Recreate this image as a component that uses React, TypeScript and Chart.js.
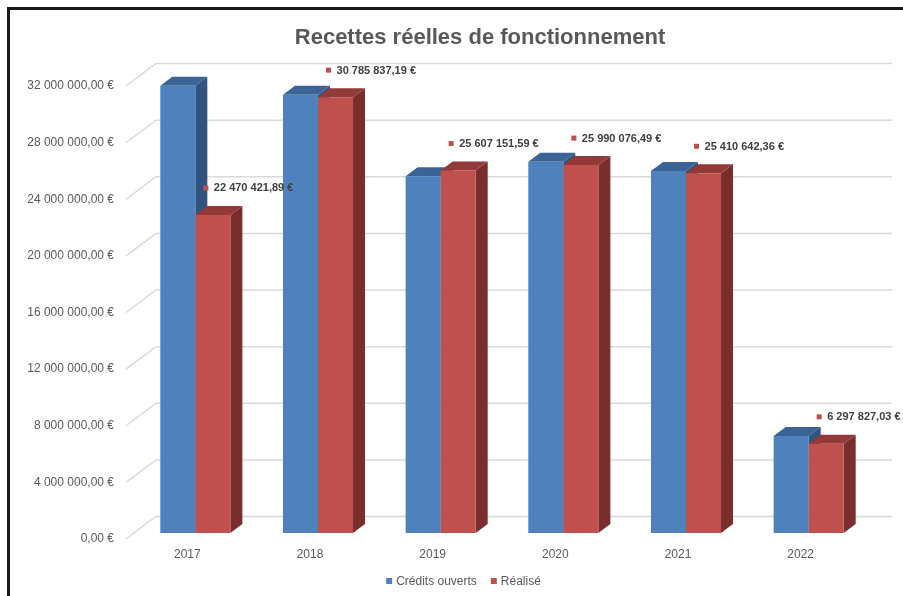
import React, { useEffect, useRef } from 'react';
import { Chart, registerables } from 'chart.js';

Chart.register(...registerables);

const chartTitle = 'Recettes réelles de fonctionnement';
const categories = ['2017', '2018', '2019', '2020', '2021', '2022'];
const seriesNames = ['Crédits ouverts', 'Réalisé'];
const creditsOuverts = [31600000, 30960000, 25200000, 26230000, 25570000, 6850000];
const realise = [22470421.89, 30785837.19, 25607151.59, 25990076.49, 25410642.36, 6297827.03];
const yMin = 0;
const yMax = 32000000;
const yStep = 4000000;

const FONT = '"Liberation Sans", Arial, sans-serif';
const frontColors = ['#4F81BD', '#C0504D'];
const sideColors = ['#31537F', '#792E2D'];
const topColors = ['#3B6395', '#933A38'];

const DEPTH = { dx: 12, dy: -9 };
const WALL = { dx: 22, dy: -16.5 };

function formatEuro(v: number): string {
  const fixed = v.toFixed(2);
  const [intPart, dec] = fixed.split('.');
  const grouped = intPart.replace(/\B(?=(\d{3})+(?!\d))/g, ' ');
  return grouped + ',' + dec + ' €';
}

const threeDPlugin = {
  id: 'threeD',
  beforeDatasetsDraw(chart: any) {
    const { ctx, chartArea, scales } = chart;
    const ys = scales.y;
    ctx.save();
    // back wall gridlines + diagonal connectors
    ctx.strokeStyle = '#D9D9D9';
    ctx.lineWidth = 1.5;
    ys.ticks.forEach((t: any) => {
      const py = ys.getPixelForValue(t.value);
      ctx.beginPath();
      ctx.moveTo(chartArea.left - 8, py + 6);
      ctx.lineTo(chartArea.left + WALL.dx, py + WALL.dy);
      ctx.lineTo(chartArea.right + WALL.dx, py + WALL.dy);
      ctx.stroke();
    });
    // side and top faces
    const n = categories.length;
    for (let i = 0; i < n; i++) {
      chart.data.datasets.forEach((_: any, d: number) => {
        const meta = chart.getDatasetMeta(d);
        const bar = meta.data[i];
        if (!bar) return;
        const { x, y, base, width } = bar.getProps(['x', 'y', 'base', 'width'], true);
        const l = x - width / 2;
        const r = x + width / 2;
        ctx.fillStyle = sideColors[d];
        ctx.beginPath();
        ctx.moveTo(r, y);
        ctx.lineTo(r + DEPTH.dx, y + DEPTH.dy);
        ctx.lineTo(r + DEPTH.dx, base + DEPTH.dy);
        ctx.lineTo(r, base);
        ctx.closePath();
        ctx.fill();
        ctx.fillStyle = topColors[d];
        ctx.beginPath();
        ctx.moveTo(l, y);
        ctx.lineTo(l + DEPTH.dx, y + DEPTH.dy);
        ctx.lineTo(r + DEPTH.dx, y + DEPTH.dy);
        ctx.lineTo(r, y);
        ctx.closePath();
        ctx.fill();
      });
    }
    ctx.restore();
  },
  afterDatasetsDraw(chart: any) {
    const { ctx } = chart;
    const meta = chart.getDatasetMeta(1);
    ctx.save();
    ctx.font = 'bold 11px ' + FONT;
    ctx.textBaseline = 'middle';
    ctx.textAlign = 'left';
    meta.data.forEach((bar: any, i: number) => {
      const { x, y } = bar.getProps(['x', 'y'], true);
      const mx = x - 7;
      const my = y - 27;
      ctx.fillStyle = frontColors[1];
      ctx.fillRect(mx - 2.5, my - 2.5, 5, 5);
      ctx.fillStyle = '#404040';
      ctx.fillText(formatEuro(realise[i]), mx + 8, my + 0.5);
    });
    ctx.restore();
  },
  afterDraw(chart: any) {
    const { ctx } = chart;
    ctx.save();
    // title
    ctx.font = 'bold 22px ' + FONT;
    ctx.fillStyle = '#595959';
    ctx.textAlign = 'center';
    ctx.textBaseline = 'middle';
    ctx.fillText(chartTitle, 470, 28);
    // legend
    ctx.font = '12px ' + FONT;
    ctx.textAlign = 'left';
    const box = 6;
    const gap = 4;
    const itemGap = 14;
    const widths = seriesNames.map((s) => ctx.measureText(s).width);
    const total = widths.reduce((a, w) => a + box + gap + w, 0) + itemGap * (seriesNames.length - 1);
    let lx = 453.5 - total / 2;
    const ly = 571;
    seriesNames.forEach((s, k) => {
      ctx.fillStyle = frontColors[k];
      ctx.fillRect(lx, ly - box / 2, box, box);
      ctx.fillStyle = '#595959';
      ctx.fillText(s, lx + box + gap, ly + 0.5);
      lx += box + gap + widths[k] + itemGap;
    });
    ctx.restore();
  },
};

export default function App() {
  const ref = useRef<HTMLCanvasElement | null>(null);
  useEffect(() => {
    if (!ref.current) return;
    Chart.defaults.font.family = FONT;
    const chart = new Chart(ref.current, {
      type: 'bar',
      data: {
        labels: categories,
        datasets: [
          {
            label: seriesNames[0],
            data: creditsOuverts,
            backgroundColor: frontColors[0],
            borderWidth: 0,
            categoryPercentage: 0.571,
            barPercentage: 1,
          },
          {
            label: seriesNames[1],
            data: realise,
            backgroundColor: frontColors[1],
            borderWidth: 0,
            categoryPercentage: 0.571,
            barPercentage: 1,
          },
        ],
      },
      options: {
        responsive: false,
        animation: false,
        devicePixelRatio: 1,
        events: [],
        layout: { padding: { left: 0, right: 33, top: 70, bottom: 0 } },
        plugins: {
          legend: { display: false },
          title: { display: false },
          tooltip: { enabled: false },
        },
        scales: {
          x: {
            grid: { display: false, drawTicks: false },
            border: { display: false },
            ticks: {
              color: '#595959',
              font: { size: 12, family: FONT },
              padding: 14,
              labelOffset: -8,
            },
            afterFit(scale: any) {
              scale.height = 63;
            },
          },
          y: {
            min: yMin,
            max: yMax,
            grid: { display: false, drawTicks: false },
            border: { display: false },
            ticks: {
              stepSize: yStep,
              color: '#595959',
              font: { size: 12, family: FONT },
              padding: 20,
              labelOffset: 6,
              callback: (v: any) => formatEuro(Number(v)),
            },
            afterFit(scale: any) {
              scale.width = 124;
            },
          },
        },
      },
      plugins: [threeDPlugin],
    } as any);
    return () => chart.destroy();
  }, []);
  return (
    <div
      style={{
        position: 'fixed',
        left: 7,
        top: 7,
        width: 893,
        height: 586,
        borderLeft: '3px solid #1a1a1a',
        borderTop: '3px solid #1a1a1a',
        background: '#fff',
      }}
    >
      <canvas ref={ref} width={893} height={586} style={{ display: 'block', width: 893, height: 586 }} />
    </div>
  );
}
